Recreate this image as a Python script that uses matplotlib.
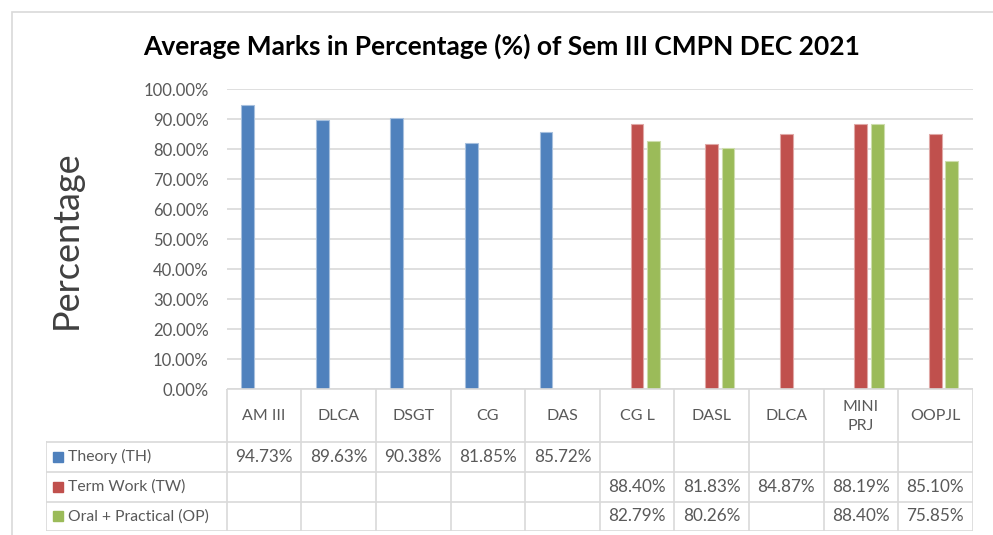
import matplotlib.pyplot as plt
from matplotlib.patches import Rectangle
from matplotlib.ticker import FuncFormatter
import numpy as np

plt.rcParams["font.family"] = ["Lato", "DejaVu Sans"]

subjects = ["AM III", "DLCA", "DSGT", "CG", "DAS", "CG L", "DASL", "DLCA", "MINI\nPRJ", "OOPJL"]
series_names = ["Theory (TH)", "Term Work (TW)", "Oral + Practical (OP)"]
theory = [94.73, 89.63, 90.38, 81.85, 85.72, None, None, None, None, None]
term_work = [None, None, None, None, None, 88.40, 81.83, 84.87, 88.19, 85.10]
oral_prac = [None, None, None, None, None, 82.79, 80.26, None, 88.40, 75.85]
colors = ["#4F81BD", "#C0504D", "#9BBB59"]
edges = ["#A7C0DE", "#E0A8A6", "#CDDDAC"]

W, H = 993, 535
fig = plt.figure(figsize=(W / 100, H / 100), dpi=100)

def fx(px):
    return px / W

def fy(py):
    return 1 - py / H

# chart frame
fig.patches.append(Rectangle((fx(12), fy(600)), fx(1100), fy(12) - fy(600),
                             transform=fig.transFigure, fill=False,
                             edgecolor="#D9D9D9", lw=1.2))

fig.text(fx(502), fy(46), "Average Marks in Percentage (%) of Sem III CMPN DEC 2021",
         ha="center", va="center", fontsize=19, fontweight="bold", color="#000000")

# plot area
x_left, x_right = 226.7, 972.7
y_top, y_bot = 89, 389
ax = fig.add_axes([fx(x_left), fy(y_bot), fx(x_right - x_left), fy(y_top) - fy(y_bot)])
n = len(subjects)
ax.set_xlim(0, n)
ax.set_ylim(0, 100)
pos = np.arange(n) + 0.5
offs = [-0.22, 0.0, 0.22]
for k, vals in enumerate([theory, term_work, oral_prac]):
    for i, v in enumerate(vals):
        if v is not None:
            ax.bar(pos[i] + offs[k], v, width=0.17, color=colors[k],
                   edgecolor=edges[k], linewidth=0.8, zorder=3)

ax.set_yticks(np.arange(0, 101, 10))
ax.yaxis.set_major_formatter(FuncFormatter(lambda v, p: f"{v:.2f}%"))
ax.tick_params(axis="y", length=0, pad=13, labelsize=12, labelcolor="#595959")
ax.set_xticks([])
ax.grid(axis="y", color="#D9D9D9", lw=1.2, zorder=0)
for s in ax.spines.values():
    s.set_visible(False)
ax.axhline(0, color="#D9D9D9", lw=1.2, zorder=4)

fig.text(fx(66), fy(240), "Percentage", rotation=90, ha="center", va="center",
         fontsize=26, color="#404040")

# data table
tab_left, tab_bot = 46, 531
tb = fig.add_axes([fx(tab_left), fy(tab_bot), fx(x_right - tab_left), fy(y_bot) - fy(tab_bot)])
tb.set_xlim(tab_left, x_right)
tb.set_ylim(tab_bot, y_bot)
tb.axis("off")
col_w = (x_right - x_left) / n
row_edges = [389, 441.7, 471.7, 501.7, 531]
line_c = "#D9D9D9"
# vertical lines
for i in range(n + 1):
    tb.plot([x_left + i * col_w] * 2, [row_edges[0], row_edges[-1]], color=line_c, lw=1.2)
tb.plot([tab_left, tab_left], [row_edges[1], row_edges[-1]], color=line_c, lw=1.2)
# horizontal lines
for j, yv in enumerate(row_edges):
    x0 = x_left if j == 0 else tab_left
    tb.plot([x0, x_right], [yv, yv], color=line_c, lw=1.2)

txt_c = "#595959"
for i, name in enumerate(subjects):
    tb.text(x_left + (i + 0.5) * col_w, (row_edges[0] + row_edges[1]) / 2 + 1, name,
            ha="center", va="center", fontsize=11.5, color=txt_c, linespacing=1.5)

for k, (name, vals) in enumerate(zip(series_names, [theory, term_work, oral_prac])):
    yc = (row_edges[k + 1] + row_edges[k + 2]) / 2
    tb.add_patch(Rectangle((53, yc - 5), 10, 10, color=colors[k]))
    tb.text(68, yc, name, ha="left", va="center", fontsize=11.3, color=txt_c)
    for i, v in enumerate(vals):
        if v is not None:
            tb.text(x_left + (i + 0.5) * col_w, yc, f"{v:.2f}%", ha="center",
                    va="center", fontsize=12.3, color=txt_c)

fig.savefig("out.png", dpi=100)
